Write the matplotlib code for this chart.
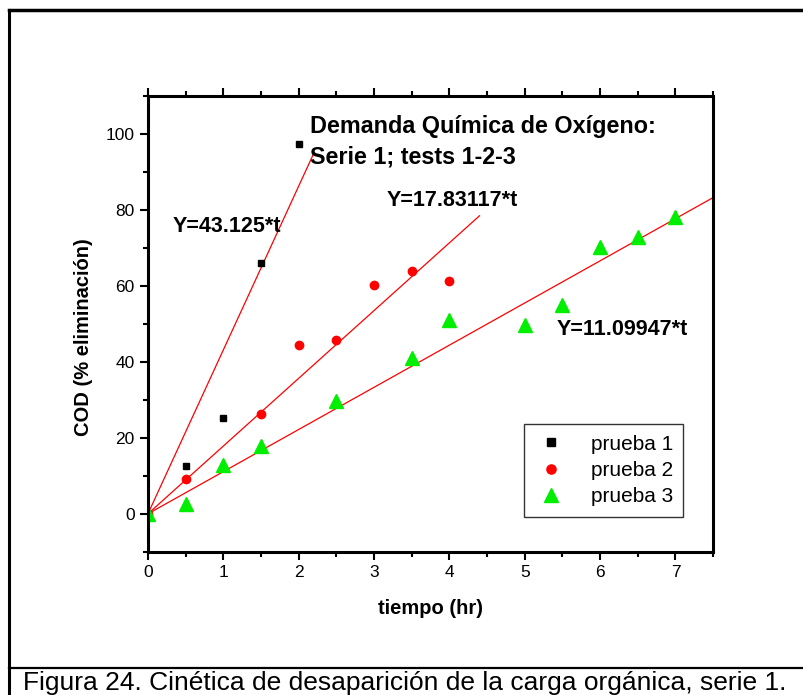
import numpy as np
import matplotlib.pyplot as plt
from matplotlib.lines import Line2D

plt.rcParams["font.family"] = ["Liberation Sans", "DejaVu Sans"]

# ==========================================
# DATA
# ==========================================

t1 = [0, 0.5, 1.0, 1.5, 2.0]
cod1 = [0, 12.6, 25.3, 66.0, 97.3]

t2 = [0, 0.5, 1.5, 2.0, 2.5, 3.0, 3.5, 4.0]
cod2 = [0, 9.2, 26.2, 44.4, 45.7, 60.1, 63.9, 61.3]

t3 = [0, 0.5, 1.0, 1.5, 2.5, 3.5, 4.0, 5.0, 5.5, 6.0, 6.5, 7.0]
cod3 = [0, 2.6, 12.9, 17.9, 29.6, 40.9, 51.1, 49.8, 54.9, 70.3, 72.8, 78.0]

slopes = [43.125, 17.83117, 11.09947]
fit_end = [2.19, 4.4, 7.5]
fit_labels = ["Y=43.125*t", "Y=17.83117*t", "Y=11.09947*t"]
fit_label_pos = [(0.33, 75.5), (3.17, 82.5), (5.42, 48.5)]

# ==========================================
# FIGURE
# ==========================================

fig = plt.figure(figsize=(8.04, 6.95), dpi=100)
ax = fig.add_axes([0.184, 0.206, 0.703, 0.656])

ax.plot(t1, cod1, "s", color="black", markersize=5, label="prueba 1",
        linestyle="none")
ax.plot(t2, cod2, "o", color="red", markersize=6, label="prueba 2",
        linestyle="none")
ax.plot(t3, cod3, "^", color="#00ee00", markersize=9.5, label="prueba 3",
        linestyle="none")

for k, te, lab, pos in zip(slopes, fit_end, fit_labels, fit_label_pos):
    tt = np.array([0, te])
    ax.plot(tt, k * tt, color="red", linewidth=0.9, zorder=1)
    ax.text(pos[0], pos[1], lab, fontsize=15.5, fontweight="bold",
            va="center", ha="left")

ax.text(2.15, 98.0, "Demanda Química de Oxígeno:\nSerie 1; tests 1-2-3",
        fontsize=16.8, fontweight="bold", va="center", ha="left",
        linespacing=1.4)

ax.set_xlim(0, 7.5)
ax.set_ylim(-10, 110)
ax.set_xticks(range(0, 8))
ax.set_xticks(np.arange(0, 7.6, 0.5), minor=True)
ax.set_yticks(range(0, 101, 20))
ax.set_yticks(range(-10, 111, 10), minor=True)

ax.tick_params(which="major", direction="out", length=6, width=1.5,
               labelsize=12.5, top=True, right=False, labeltop=False)
ax.tick_params(which="minor", direction="out", length=3.5, width=1.5,
               top=True, right=False)

for s in ax.spines.values():
    s.set_linewidth(2.2)

ax.set_xlabel("tiempo (hr)", fontsize=14.5, fontweight="bold", labelpad=14)
ax.set_ylabel("COD (% eliminación)", fontsize=14.5, fontweight="bold")
ax.yaxis.set_label_coords(-0.097, 0.47)

leg = ax.legend(loc="lower right", bbox_to_anchor=(0.947, 0.077),
                borderaxespad=0, fontsize=15, frameon=True, fancybox=False,
                edgecolor="black", handletextpad=1.1, borderpad=0.5,
                labelspacing=0.35, handlelength=1.6, markerscale=1.1)
leg.get_frame().set_linewidth(1.0)

# outer frame of the figure cell
W, H = 804, 695
fig.add_artist(Line2D([9 / W, 9 / W], [0, 1 - 10 / H], color="black",
                      linewidth=2.2, transform=fig.transFigure))
fig.add_artist(Line2D([9 / W, 1], [1 - 10 / H, 1 - 10 / H], color="black",
                      linewidth=2.5, transform=fig.transFigure))
fig.add_artist(Line2D([9 / W, 1], [1 - 668 / H, 1 - 668 / H], color="black",
                      linewidth=1.6, transform=fig.transFigure))

fig.text(405 / W, 1 - 683 / H,
         "Figura 24. Cinética de desaparición de la carga orgánica, serie 1.",
         fontsize=19, ha="center", va="center")

fig.savefig("out.png", dpi=100)
